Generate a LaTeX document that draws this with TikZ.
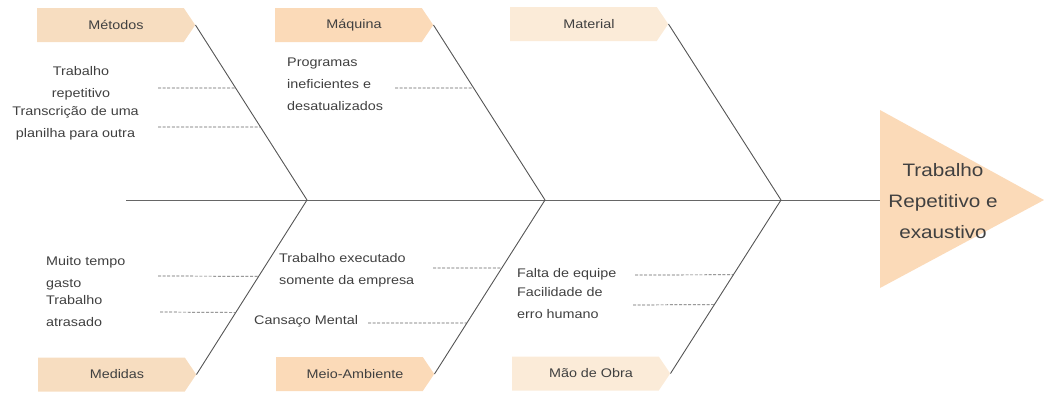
\documentclass[tikz,border=0pt]{standalone}
\usepackage{fontspec}
\setmainfont{Liberation Sans}[FakeStretch=1.15]
\usetikzlibrary{shapes.symbols,calc}
\definecolor{peach}{RGB}{251,218,184}
\definecolor{peachB}{RGB}{247,221,192}
\definecolor{lightpeach}{RGB}{251,235,216}
\definecolor{txt}{RGB}{64,64,64}
\definecolor{bonec}{RGB}{85,85,85}
\definecolor{dashc}{RGB}{100,100,100}
\newcommand{\cattext}[1]{\hspace*{11pt}#1}
\begin{document}
\begin{tikzpicture}[x=1pt,y=-1pt,
  cat/.style={shape=signal, signal to=east, signal from=nowhere, signal pointer angle=112,
    minimum width=158pt, minimum height=34pt, inner sep=0pt, draw=none, text=txt,
    font=\fontsize{12.5}{15}\selectfont},
  lbl/.style={text=txt, inner sep=0pt, font=\fontsize{12.5}{22}\selectfont},
  bone/.style={draw=bonec, line width=0.9pt},
  spine/.style={draw=bonec!90, line width=1pt},
  sub/.style={draw=dashc, line width=0.7pt, dash pattern=on 3pt off 1.6pt}]
\useasboundingbox (0,0) rectangle (1044,392);
% effect triangle
\fill[peach] (880,110) -- (1044,200) -- (880,288) -- cycle;
\node[lbl, align=center, font=\fontsize{18}{31}\selectfont] (effect) at (943,201) {Trabalho\\Repetitivo e\\exaustivo};
\coordinate (head) at (880,200);
\coordinate (tail) at (126,200);
\coordinate (s1) at (307,200);
\coordinate (s2) at (545,200);
\coordinate (s3) at (781,200);
\draw[spine] (tail) -- (head);
% category boxes
\node[cat, fill=peachB] (metodos) at (110.5,25) {\cattext{Métodos}};
\node[cat, fill=peach] (maquina) at (348.5,25) {\cattext{Máquina}};
\node[cat, fill=lightpeach] (material) at (583.5,24) {\cattext{Material}};
\node[cat, fill=peachB] (medidas) at (111.5,374.5) {\cattext{Medidas}};
\node[cat, fill=peach] (meio) at (349.5,374) {\cattext{Meio-Ambiente}};
\node[cat, fill=lightpeach] (mao) at (585.5,373.5) {\cattext{Mão de Obra}};
% bones
\draw[bone] (metodos.east) -- (s1);
\draw[bone] (maquina.east) -- (s2);
\draw[bone] (material.east) -- (s3);
\draw[bone] (medidas.east) -- (s1);
\draw[bone] (meio.east) -- (s2);
\draw[bone] (mao.east) -- (s3);
% Metodos causes
\node[lbl, align=center] (c1) at (81,83) {Trabalho\\repetitivo};
\node[lbl, align=center] (c2) at (75.5,123.5) {Transcrição de uma\\planilha para outra};
\coordinate (d1) at (158,88);
\coordinate (d2) at (158,127);
\draw[sub] (d1) -- ($(metodos.east)!0.36!(s1)$);
\draw[sub] (d2) -- ($(metodos.east)!0.583!(s1)$);
% Maquina causes
\node[lbl, align=left, anchor=west] (c3) at (287,84) {Programas\\ineficientes e\\desatualizados};
\coordinate (d3) at (395,88);
\draw[sub] (d3) -- ($(maquina.east)!0.36!(s2)$);
% Medidas causes
\node[lbl, align=left, anchor=west] (c4) at (46,273.5) {Muito tempo\\gasto};
\node[lbl, align=left, anchor=west] (c5) at (46,311) {Trabalho\\atrasado};
\coordinate (d4) at (158,276);
\coordinate (d5) at (160,312);
\draw[sub] (d4) -- ($(medidas.east)!0.563!(s1)$);
\draw[sub] (d5) -- ($(medidas.east)!0.356!(s1)$);
% Meio-Ambiente causes
\node[lbl, align=left, anchor=west] (c6) at (279,270) {Trabalho executado\\somente da empresa};
\node[lbl, align=left, anchor=west] (c7) at (254,321) {Cansaço Mental};
\coordinate (d6) at (433,268);
\coordinate (d7) at (368,323);
\draw[sub] (d6) -- ($(meio.east)!0.609!(s2)$);
\draw[sub] (d7) -- ($(meio.east)!0.293!(s2)$);
% Mao de Obra causes
\node[lbl, align=left, anchor=west] (c8) at (517,274) {Falta de equipe};
\node[lbl, align=left, anchor=west] (c9) at (517,303) {Facilidade de\\erro humano};
\coordinate (d8) at (635,275);
\coordinate (d9) at (633,305);
\draw[sub] (d8) -- ($(mao.east)!0.569!(s3)$);
\draw[sub] (d9) -- ($(mao.east)!0.397!(s3)$);
\end{tikzpicture}
\end{document}
